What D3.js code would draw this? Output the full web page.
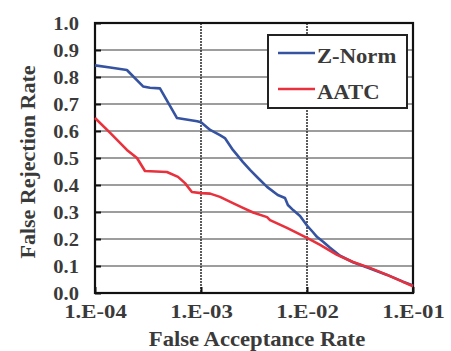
<!DOCTYPE html>
<html>
<head>
<meta charset="utf-8">
<script src="https://cdn.jsdelivr.net/npm/d3@7"></script>
<style>
  body { margin: 0; background: #fff; }
  text { font-family: "Liberation Serif", "Times New Roman", serif; font-weight: bold; fill: #3a3a3a; }
</style>
</head>
<body>
<svg id="chart" width="451" height="351"></svg>
<script>
// DET curves: false rejection rate vs. false acceptance rate
const seriesNames = ["Z-Norm", "AATC"];
const seriesColors = ["#3553a0", "#e8313c"];

const zNormFAR = [1e-4, 1.39e-4, 2.0e-4, 2.84e-4, 3.3e-4, 4.1e-4, 5.94e-4, 9.2e-4, 1e-3, 1.22e-3, 1.51e-3, 1.68e-3,
  2.0e-3, 2.49e-3, 2.9e-3, 3.45e-3, 4.2e-3, 5.3e-3, 6.2e-3, 6.6e-3, 7.4e-3, 8.6e-3, 1e-2, 1.14e-2, 1.24e-2,
  1.42e-2, 1.65e-2, 2.05e-2, 2.72e-2, 3.93e-2, 5.7e-2, 8.05e-2, 1e-1];
const zNormFRR = [0.843, 0.835, 0.826, 0.765, 0.76, 0.758, 0.648, 0.636, 0.632, 0.604, 0.585, 0.574,
  0.53, 0.485, 0.456, 0.426, 0.393, 0.363, 0.352, 0.326, 0.307, 0.285, 0.25, 0.225, 0.208,
  0.19, 0.168, 0.138, 0.114, 0.091, 0.067, 0.042, 0.028];

const aatcFAR = [1e-4, 1.39e-4, 2.0e-4, 2.49e-4, 2.96e-4, 4.77e-4, 6.07e-4, 7.06e-4, 8.2e-4, 1e-3, 1.22e-3,
  1.51e-3, 2.0e-3, 2.49e-3, 3.1e-3, 4.2e-3, 4.48e-3, 6.47e-3, 1e-2, 1.33e-2, 1.92e-2, 2.72e-2, 3.93e-2,
  5.7e-2, 8.05e-2, 1e-1];
const aatcFRR = [0.648, 0.593, 0.53, 0.5, 0.452, 0.448, 0.43, 0.407, 0.374, 0.37, 0.368,
  0.356, 0.333, 0.315, 0.298, 0.281, 0.27, 0.241, 0.204, 0.178, 0.141, 0.115, 0.093,
  0.067, 0.041, 0.025];

const xTickValues = [1e-4, 1e-3, 1e-2, 1e-1];
const xTickLabels = ["1.E-04", "1.E-03", "1.E-02", "1.E-01"];
const yTickValues = [0, 0.1, 0.2, 0.3, 0.4, 0.5, 0.6, 0.7, 0.8, 0.9, 1.0];
const yTickLabels = ["0.0", "0.1", "0.2", "0.3", "0.4", "0.5", "0.6", "0.7", "0.8", "0.9", "1.0"];
const xTitle = "False Acceptance Rate";
const yTitle = "False Rejection Rate";

const margin = { top: 23, right: 38, bottom: 58, left: 95 };
const W = 451, H = 351;
const iw = W - margin.left - margin.right;
const ih = H - margin.top - margin.bottom;

const svg = d3.select("#chart");
const g = svg.append("g").attr("transform", `translate(${margin.left},${margin.top})`);

const x = d3.scaleLog().domain([1e-4, 1e-1]).range([0, iw]);
const y = d3.scaleLinear().domain([0, 1]).range([ih, 0]);

// grid
g.append("g").selectAll("line").data(yTickValues.slice(1, -1)).join("line")
  .attr("x1", 0).attr("x2", iw)
  .attr("y1", d => y(d)).attr("y2", d => y(d))
  .attr("stroke", "#7d7d7d").attr("stroke-width", 1.6);
g.append("g").selectAll("line").data(xTickValues.slice(1, -1)).join("line")
  .attr("x1", d => x(d)).attr("x2", d => x(d))
  .attr("y1", 0).attr("y2", ih)
  .attr("stroke", "#333").attr("stroke-width", 1.6).attr("stroke-dasharray", "2,1");

// axes
const yAxis = g.append("g")
  .call(d3.axisLeft(y).tickValues(yTickValues).tickSize(-6).tickPadding(0)
    .tickFormat((d, i) => yTickLabels[i]));
yAxis.select(".domain").remove();
yAxis.selectAll(".tick line").attr("stroke", "#111").attr("stroke-width", 2);
yAxis.selectAll(".tick text")
  .attr("x", 0).attr("dy", "0.34em")
  .attr("transform", "translate(-16,0) scale(1.08,1)")
  .style("font-size", "19px");

const xAxis = g.append("g").attr("transform", `translate(0,${ih})`)
  .call(d3.axisBottom(x).tickValues(xTickValues).tickSize(-6).tickPadding(0)
    .tickFormat((d, i) => xTickLabels[i]));
xAxis.select(".domain").remove();
xAxis.selectAll(".tick line").attr("stroke", "#111").attr("stroke-width", 2);
xAxis.selectAll(".tick text")
  .attr("y", 0).attr("dy", 0)
  .attr("transform", "translate(0,25) scale(1.2,1)")
  .style("font-size", "19px");

// frame
g.append("rect").attr("width", iw).attr("height", ih)
  .attr("fill", "none").attr("stroke", "#111").attr("stroke-width", 2.2);

// curves
const line = d3.line().x(d => x(d[0])).y(d => y(d[1]));
const series = [
  d3.zip(zNormFAR, zNormFRR),
  d3.zip(aatcFAR, aatcFRR)
];
series.forEach((pts, i) => {
  g.append("path").datum(pts)
    .attr("d", line)
    .attr("fill", "none")
    .attr("stroke", seriesColors[i])
    .attr("stroke-width", 2.6)
    .attr("stroke-linejoin", "round");
});

// axis titles
svg.append("text")
  .attr("transform", `translate(257,346) scale(1.03,1)`)
  .attr("text-anchor", "middle")
  .style("font-size", "22px")
  .text(xTitle);
svg.append("text")
  .attr("transform", `translate(35,162) rotate(-90)`)
  .attr("text-anchor", "middle")
  .style("font-size", "22px")
  .text(yTitle);

// legend
const lg = svg.append("g").attr("transform", "translate(268,35)");
lg.append("rect").attr("width", 139).attr("height", 73)
  .attr("fill", "#fff").attr("stroke", "#222").attr("stroke-width", 2);
seriesNames.forEach((name, i) => {
  const cy = 18 + i * 36;
  lg.append("line").attr("x1", 10).attr("x2", 47).attr("y1", cy).attr("y2", cy)
    .attr("stroke", seriesColors[i]).attr("stroke-width", 2.6);
  lg.append("text")
    .attr("transform", `translate(49,${cy + 10}) scale(1.03,1)`)
    .style("font-size", "22px")
    .text(name);
});
</script>
</body>
</html>
